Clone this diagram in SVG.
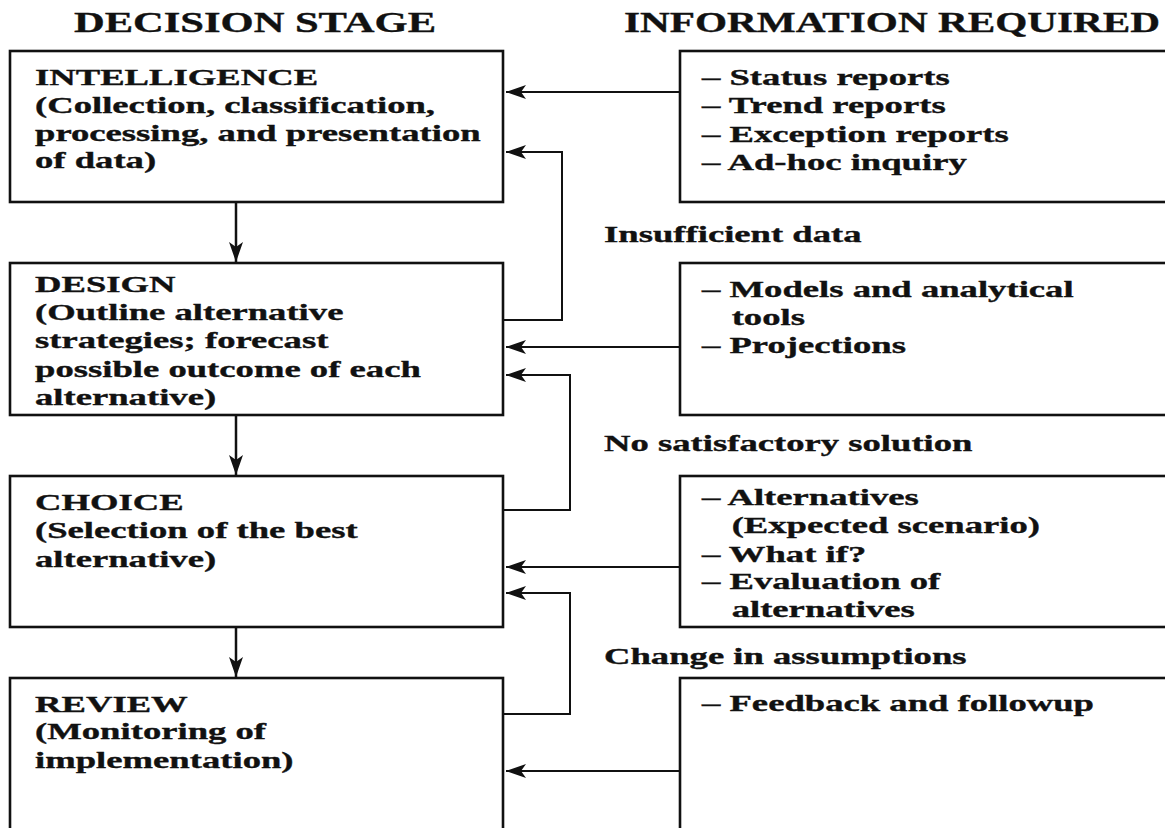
<svg xmlns="http://www.w3.org/2000/svg" width="1165" height="828" viewBox="0 0 1165 828">
<style>
.t{font-family:"Liberation Serif","Times New Roman",serif;font-weight:bold;fill:#111;stroke:#111;stroke-width:0.35;}
.h{font-size:29px;}
.b{font-size:23.5px;}
.box{fill:#fff;stroke:#111;stroke-width:2.6;}
.ln{fill:none;stroke:#111;stroke-width:2;}
</style>
<defs>
<marker id="al" markerUnits="userSpaceOnUse" markerWidth="22" markerHeight="14" refX="20" refY="7" orient="auto">
<path d="M0,0 L20,7 L0,14 L5,7 Z" fill="#111"/>
</marker>
</defs>
<rect width="1165" height="828" fill="#fff"/>
<g id="headers">
<text class="t h" x="74" y="32" textLength="362" lengthAdjust="spacingAndGlyphs">DECISION STAGE</text>
<text class="t h" x="624" y="32" textLength="536" lengthAdjust="spacingAndGlyphs">INFORMATION REQUIRED</text>
</g>
<g id="intelligence">
<rect class="box" x="10" y="51" width="493" height="151"/>
<g class="t b" transform="translate(35,0) scale(1.56,1)">
<text x="0" y="85">INTELLIGENCE</text>
<text x="0" y="113">(Collection, classification,</text>
<text x="0" y="141">processing, and presentation</text>
<text x="0" y="168">of data)</text>
</g>
</g>
<g id="info1">
<rect class="box" x="680" y="51" width="500" height="151"/>
<g class="t b" transform="translate(702,0) scale(1.56,1)">
<text x="0" y="85">– Status reports</text>
<text x="0" y="113">– Trend reports</text>
<text x="0" y="142">– Exception reports</text>
<text x="0" y="170">– Ad-hoc inquiry</text>
</g>
</g>
<g id="lbl1"><text class="t b" transform="translate(604,242) scale(1.56,1)">Insufficient data</text></g>
<g id="design">
<rect class="box" x="10" y="263" width="493" height="152"/>
<g class="t b" transform="translate(35,0) scale(1.56,1)">
<text x="0" y="292">DESIGN</text>
<text x="0" y="320">(Outline alternative</text>
<text x="0" y="348">strategies; forecast</text>
<text x="0" y="377">possible outcome of each</text>
<text x="0" y="405">alternative)</text>
</g>
</g>
<g id="info2">
<rect class="box" x="680" y="263" width="500" height="152"/>
<g class="t b" transform="translate(702,0) scale(1.56,1)">
<text x="0" y="297">– Models and analytical</text>
<text x="19" y="325">tools</text>
<text x="0" y="353">– Projections</text>
</g>
</g>
<g id="lbl2"><text class="t b" transform="translate(604,451) scale(1.56,1)">No satisfactory solution</text></g>
<g id="choice">
<rect class="box" x="10" y="476" width="493" height="151"/>
<g class="t b" transform="translate(35,0) scale(1.56,1)">
<text x="0" y="510">CHOICE</text>
<text x="0" y="538">(Selection of the best</text>
<text x="0" y="567">alternative)</text>
</g>
</g>
<g id="info3">
<rect class="box" x="680" y="476" width="500" height="151"/>
<g class="t b" transform="translate(702,0) scale(1.56,1)">
<text x="0" y="505">– Alternatives</text>
<text x="19" y="533">(Expected scenario)</text>
<text x="0" y="562">– What if?</text>
<text x="0" y="589">– Evaluation of</text>
<text x="19" y="617">alternatives</text>
</g>
</g>
<g id="lbl3"><text class="t b" transform="translate(604,664) scale(1.56,1)">Change in assumptions</text></g>
<g id="review">
<rect class="box" x="10" y="678" width="493" height="170"/>
<g class="t b" transform="translate(35,0) scale(1.56,1)">
<text x="0" y="712">REVIEW</text>
<text x="0" y="739">(Monitoring of</text>
<text x="0" y="768">implementation)</text>
</g>
</g>
<g id="info4">
<rect class="box" x="680" y="678" width="500" height="170"/>
<g class="t b" transform="translate(702,0) scale(1.56,1)">
<text x="0" y="711">– Feedback and followup</text>
</g>
</g>
<g id="connectors">
<line class="ln" x1="236" y1="203" x2="236" y2="262" marker-end="url(#al)" style="stroke-width:2.5"/>
<line class="ln" x1="236" y1="416" x2="236" y2="475" marker-end="url(#al)" style="stroke-width:2.5"/>
<line class="ln" x1="236" y1="628" x2="236" y2="677" marker-end="url(#al)" style="stroke-width:2.5"/>
<line class="ln" x1="680" y1="92" x2="506" y2="92" marker-end="url(#al)"/>
<line class="ln" x1="680" y1="347" x2="506" y2="347" marker-end="url(#al)"/>
<line class="ln" x1="680" y1="567" x2="506" y2="567" marker-end="url(#al)"/>
<line class="ln" x1="680" y1="771" x2="506" y2="771" marker-end="url(#al)"/>
<path class="ln" d="M503,320 H562 V152 H506" marker-end="url(#al)"/>
<path class="ln" d="M503,510 H570 V375 H506" marker-end="url(#al)"/>
<path class="ln" d="M503,714 H570 V593 H506" marker-end="url(#al)"/>
</g>
</svg>
